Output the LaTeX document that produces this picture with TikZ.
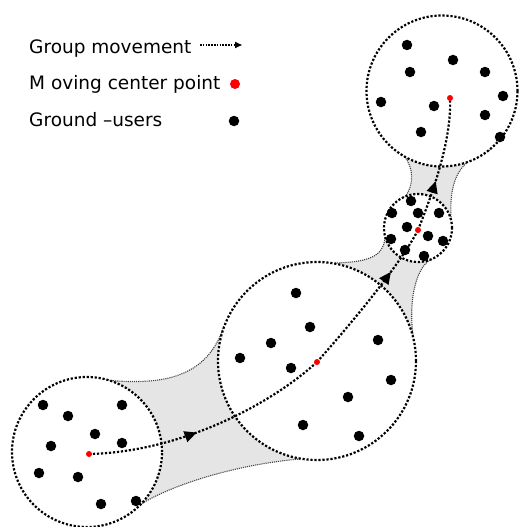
\documentclass[tikz,border=0pt]{standalone}
\usepackage{fontspec}
\setmainfont{DejaVu Sans}
\usetikzlibrary{arrows.meta,decorations.markings}
\begin{document}
\begin{tikzpicture}[x=1pt,y=-1pt,
  grp/.style={circle, draw=black, fill=white, line width=2.2pt, dash pattern=on 2.2pt off 1.8pt, inner sep=0pt},
  hullfill/.style={fill=gray!20, draw=none},
  hullline/.style={draw=gray!50!black, line width=1.1pt, dash pattern=on 1.1pt off 1pt},
  move/.style={draw=black, line width=2.2pt, dash pattern=on 2.2pt off 1.8pt},
  midarrow/.style={postaction={decorate}, decoration={markings, mark=at position #1 with {\arrow{Triangle[length=12pt,width=11pt]}}}},
  user/.style={circle, fill=black, inner sep=0pt, minimum size=10.5pt},
  ctr/.style={circle, fill=red, inner sep=0pt, minimum size=6pt},
  legtext/.style={anchor=base west, inner sep=0pt, font=\fontsize{18.5}{22}\selectfont}
]
\useasboundingbox (0,0) rectangle (519,527);

% ---- hull regions ----
\path[hullfill] (88,378) .. controls (150,386) and (205,385) .. (224,326) -- (317,361)
  -- (300,459) .. controls (230,465) and (165,488) .. (140,505) -- (87,452) -- cycle;
\path[hullfill] (335,263) .. controls (368,262) and (383,257) .. (385,238) -- (418,228)
  -- (432,259) .. controls (418,265) and (408,295) .. (413,335) -- (317,361) -- cycle;
\path[hullfill] (405,197) .. controls (414,185) and (414,168) .. (404,156) -- (442,91)
  -- (490,150) .. controls (462,160) and (449,175) .. (451,218) -- (418,228) -- cycle;

\draw[hullline] (88,378) .. controls (150,386) and (205,385) .. (224,326);
\draw[hullline] (300,459) .. controls (230,465) and (165,488) .. (140,505);
\draw[hullline] (335,263) .. controls (368,262) and (383,257) .. (385,238);
\draw[hullline] (432,259) .. controls (418,265) and (408,295) .. (413,335);
\draw[hullline] (405,197) .. controls (414,185) and (414,168) .. (404,156);
\draw[hullline] (490,150) .. controls (462,160) and (449,175) .. (451,218);

% ---- group circles ----
\node[grp, minimum size=150pt] (g1) at (87,452) {};
\node[grp, minimum size=198pt] (g2) at (317,361) {};
\node[grp, minimum size=68pt]  (g3) at (418,228) {};
\node[grp, minimum size=151pt] (g4) at (442,91) {};

% ---- centre coordinates ----
\coordinate (p1) at (89,454);
\coordinate (p2) at (317,362);
\coordinate (p3) at (418,230);
\coordinate (p4) at (450,98);

% ---- group movement path ----
\draw[move, midarrow=0.44] (p1) .. controls (180,452) and (270,405) .. (p2);
\draw[move, midarrow=0.70] (p2) .. controls (350,325) and (400,265) .. (p3);
\draw[move, midarrow=0.38] (p3) .. controls (432,195) and (452,140) .. (p4);

% ---- ground users ----
\foreach \x/\y [count=\i] in {43/405,68/416,122/405,95/434,122/443,51/446,39/473,78/477,101/504,136/501}
  \node[user] (ua\i) at (\x,\y) {};
\foreach \x/\y [count=\i] in {296/293,310/327,271/343,240/358,291/368,378/340,391/380,348/397,303/425,359/436}
  \node[user] (ub\i) at (\x,\y) {};
\foreach \x/\y [count=\i] in {411/201,392/213,418/213,439/213,407/227,428/236,391/239,443/241,405/250,424/256}
  \node[user] (uc\i) at (\x,\y) {};
\foreach \x/\y [count=\i] in {407/45,453/60,410/72,485/72,381/102,434/106,503/96,485/115,421/132,500/137}
  \node[user] (ud\i) at (\x,\y) {};

% ---- centre points ----
\node[ctr] (c1) at (p1) {};
\node[ctr] (c2) at (p2) {};
\node[ctr] (c3) at (p3) {};
\node[ctr] (c4) at (p4) {};

% ---- legend ----
\node[legtext] (t1) at (29,54) {Group movement};
\node[legtext] (t2) at (29,89) {M oving center point};
\node[legtext] (t3) at (29,126) {Ground –users};
\coordinate (la) at (200,45);
\coordinate (lb) at (242,45);
\draw[black, line width=1.6pt, dash pattern=on 1.6pt off 1.2pt, -{Triangle[length=7pt,width=6pt]}] (la) -- (lb);
\node[circle, fill=red, inner sep=0pt, minimum size=10pt] (lr) at (235,84) {};
\node[user] (lu) at (234,121) {};
\end{tikzpicture}
\end{document}
